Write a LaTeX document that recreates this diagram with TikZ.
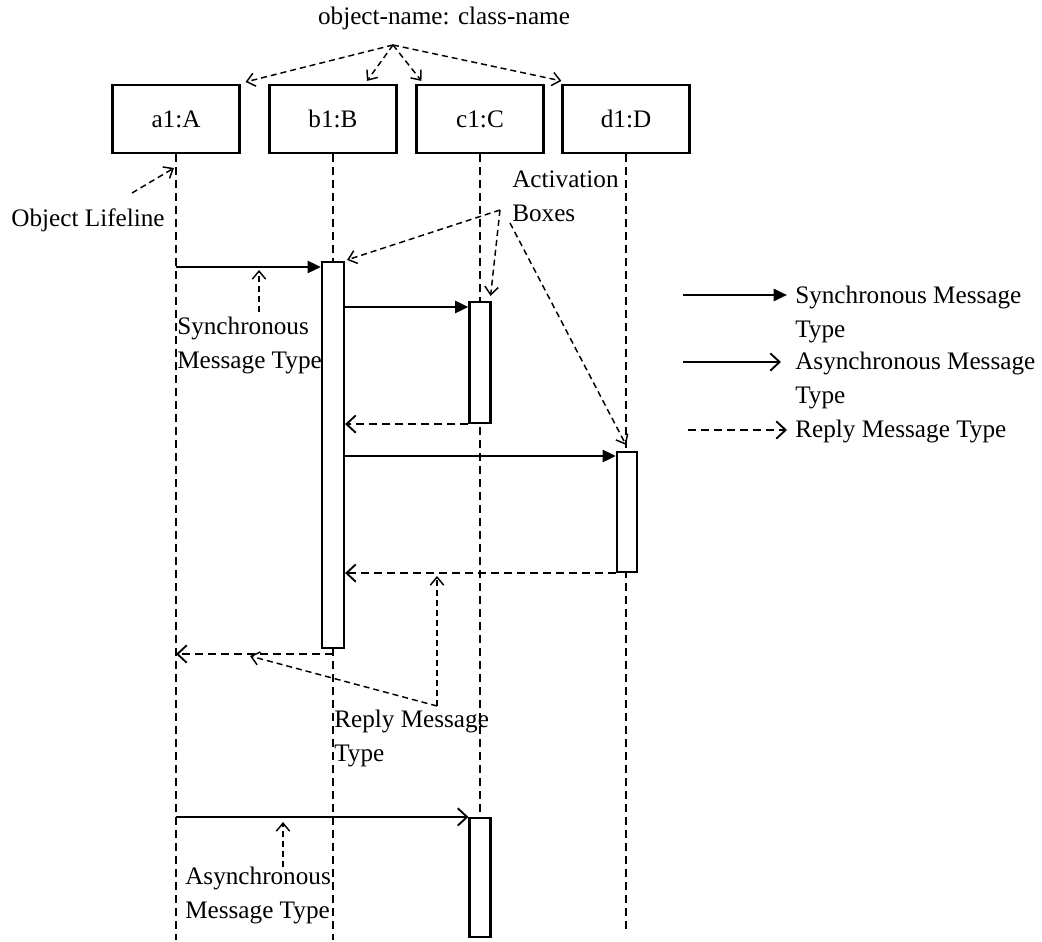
\documentclass[tikz,border=0pt]{standalone}
\usepackage{fontspec}
\setmainfont{Liberation Serif}
\usetikzlibrary{arrows.meta,calc}
\begin{document}
\begin{tikzpicture}[x=0.75pt,y=-0.75pt,
  every node/.style={font=\fontsize{18.9}{25.1}\selectfont},
  objbox/.style={draw,line width=1.6pt,minimum width=95.25pt,minimum height=51pt,inner sep=0pt,fill=white},
  actbox/.style={draw,line width=1.6pt,fill=white,inner sep=0pt,minimum width=15.75pt},
  lifeline/.style={line width=1.3pt,dash pattern=on 6pt off 3.75pt},
  lifelineB/.style={line width=2.1pt,dash pattern=on 6pt off 3.75pt},
  syncmsg/.style={line width=2pt,-{Triangle[length=10pt,width=9pt]}},
  asyncmsg/.style={line width=1.6pt,-{Straight Barb[length=7pt,width=13pt,line width=1.4pt]}},
  replymsg/.style={line width=1.8pt,dash pattern=on 6pt off 3.75pt,-{Straight Barb[length=7pt,width=13pt,line width=1.4pt]}},
  annot/.style={line width=1.1pt,dash pattern=on 4.5pt off 3pt,-{Straight Barb[length=6pt,width=10pt,line width=1.1pt]}},
  txt/.style={align=left,anchor=north west,inner sep=0pt}
]
\useasboundingbox (0,0) rectangle (1042,942);

% object boxes
\node[objbox] (a) at (176,119) {a1:A};
\node[objbox] (b) at (333,119) {b1:B};
\node[objbox] (c) at (480,119) {c1:C};
\node[objbox] (d) at (626,119) {d1:D};

% lifeline ends
\coordinate (aEnd) at (176,940);
\coordinate (bEnd) at (333,940);
\coordinate (cEnd) at (480,813);
\coordinate (dEnd) at (626,930);

\draw[lifeline] (a.south) -- (aEnd);
\draw[lifelineB] (b.south) -- (bEnd);
\draw[lifeline] (c.south) -- (cEnd);
\draw[lifeline] (d.south) -- (dEnd);

% activation boxes
\node[actbox,minimum width=16.5pt,minimum height=289.5pt] (actB) at (333,455) {};
\node[actbox,minimum height=90.75pt] (actC1) at (480,362.5) {};
\node[actbox,minimum width=15pt,minimum height=90pt] (actD) at (627,512) {};
\node[actbox,minimum height=89.25pt] (actC2) at (480,877.5) {};

% messages
\coordinate (y1) at (0,267);
\coordinate (y2) at (0,307);
\coordinate (y3) at (0,456);
\coordinate (y6) at (0,654);
\draw[syncmsg] (a.south |- y1) -- (actB.west |- y1);
\draw[syncmsg] (actB.east |- y2) -- (actC1.west |- y2);
\draw[replymsg] (actC1.south west) -- (actB.east |- actC1.south west);
\draw[syncmsg] (actB.east |- y3) -- (actD.west |- y3);
\draw[replymsg] (actD.south west) -- (actB.east |- actD.south west);
\draw[replymsg] (actB.south |- y6) -- (a.south |- y6);
\draw[asyncmsg] (a.south |- actC2.north) -- (actC2.north west);

% texts
\node (title) at (444,18) {object-name: class-name};
\node (olT) at (88,220) {Object Lifeline};
\node[txt] (syncT) at (177,317) {Synchronous\\Message Type};
\node[txt] (actT) at (512,171) {Activation\\Boxes};
\node[txt] (replyT) at (334,710) {Reply Message\\Type};
\node[txt] (asyncT) at (185,867) {Asynchronous\\Message Type};

% annotation arrows
\coordinate (tsrc) at (393,45);
\draw[annot] (tsrc) -- ($(a.north east)+(5,-2)$);
\draw[annot] (tsrc) -- ($(b.north)+(34,-3)$);
\draw[annot] (tsrc) -- ($(c.north west)+(6,-3)$);
\draw[annot] (tsrc) -- ($(d.north west)+(0,-3)$);

\coordinate (olS) at (132,193);
\coordinate (olE) at (174,168);
\draw[annot] (olS) -- (olE);

\coordinate (actS) at (500,210);
\coordinate (actS2) at (510,223);
\draw[annot] (actS) -- ($(actB.north east)+(2,-1)$);
\draw[annot] (actS) -- ($(actC1.north east)+(-1,-5)$);
\draw[annot] (actS2) -- ($(actD.north)+(-1,-6)$);

\coordinate (syS) at (259,312);
\coordinate (syE) at (259,270);
\draw[annot] (syS) -- (syE);

\coordinate (rpS) at (437,706);
\coordinate (rpE1) at (437,576);
\coordinate (rpE2) at (250,656);
\draw[annot] (rpS) -- (rpE1);
\draw[annot] (rpS) -- (rpE2);

\coordinate (asS) at (283,867);
\coordinate (asE) at (283,822);
\draw[annot] (asS) -- (asE);

% legend
\coordinate (lg1s) at (683,295);
\coordinate (lg1e) at (787,295);
\coordinate (lg2s) at (683,362);
\coordinate (lg2e) at (781,362);
\coordinate (lg3s) at (688,430);
\coordinate (lg3e) at (787,430);
\draw[syncmsg] (lg1s) -- (lg1e);
\draw[asyncmsg] (lg2s) -- (lg2e);
\draw[replymsg,line width=1.3pt] (lg3s) -- (lg3e);
\node[txt] (lg1) at (795,286) {Synchronous Message\\Type};
\node[txt] (lg2) at (795,352) {Asynchronous Message\\Type};
\node[txt] (lg3) at (795,420) {Reply Message Type};
\end{tikzpicture}
\end{document}
